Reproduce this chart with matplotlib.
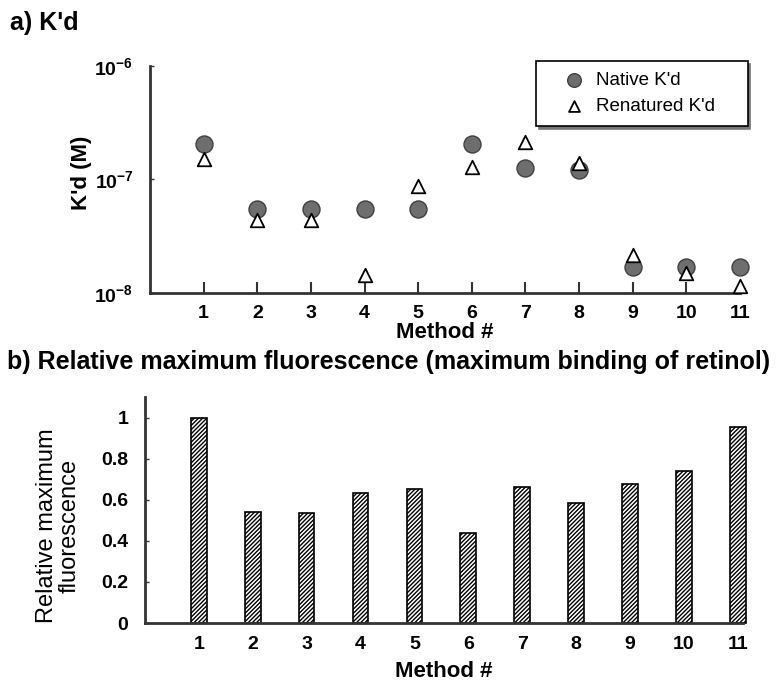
import numpy as np
import matplotlib.pyplot as plt

plt.rcParams['font.family'] = ['Liberation Sans', 'DejaVu Sans']
plt.rcParams['font.weight'] = 'bold'
plt.rcParams['mathtext.fontset'] = 'custom'
plt.rcParams['mathtext.rm'] = 'Liberation Sans'
plt.rcParams['mathtext.bf'] = 'Liberation Sans:bold'
plt.rcParams['hatch.linewidth'] = 1.0

##### DATA #####
methods = [1, 2, 3, 4, 5, 6, 7, 8, 9, 10, 11]
native_kd = [2.05e-7, 5.5e-8, 5.5e-8, 5.5e-8, 5.5e-8, 2.05e-7, 1.26e-7, 1.22e-7, 1.7e-8, 1.7e-8, 1.7e-8]
renatured_kd = [1.51e-7, 4.4e-8, 4.4e-8, 1.45e-8, 8.8e-8, 1.29e-7, 2.14e-7, 1.4e-7, 2.16e-8, 1.5e-8, 1.15e-8]
rel_fluor = [1.0, 0.54, 0.535, 0.634, 0.654, 0.44, 0.66, 0.585, 0.677, 0.741, 0.956]
kd_ticks = [1e-8, 1e-7, 1e-6]
kd_tick_labels = [r'$\mathbf{10^{-8}}$', r'$\mathbf{10^{-7}}$', r'$\mathbf{10^{-6}}$']

axis_col = '#333333'

fig = plt.figure(figsize=(7.79, 6.86), dpi=100)

##### a) K'd #####
ax1 = fig.add_axes([0.1926, 0.5729, 0.7574, 0.3309])
ax1.set_yscale('log')
ax1.scatter(methods, native_kd, s=150, marker='o', facecolor='#6e6e6e',
            edgecolor='#404040', linewidth=1, label="Native K'd    ", zorder=3, clip_on=False)
ax1.scatter(methods, renatured_kd, s=95, marker='^', facecolor='white',
            edgecolor='black', linewidth=1.3, label="Renatured K'd    ", zorder=4, clip_on=False)
ax1.set_xlim(0, 11)
ax1.set_ylim(1e-8, 1e-6)
ax1.set_yticks(kd_ticks)
ax1.set_yticklabels(kd_tick_labels)
ax1.yaxis.set_minor_locator(plt.NullLocator())
ax1.set_xticks(methods)
ax1.set_xticklabels([str(m) for m in methods])
ax1.set_xlabel('Method #', fontsize=16, fontweight='bold', labelpad=0)
ax1.set_ylabel("K'd (M)", fontsize=16, fontweight='bold')
ax1.yaxis.set_label_coords(-0.098, 0.53)
leg = ax1.legend(loc='upper right', bbox_to_anchor=(1.013, 1.022), borderaxespad=0,
                 frameon=True, fancybox=False, shadow={'color': '#777777', 'alpha': 1},
                 handlelength=2.8, handletextpad=-0.2, borderpad=0.6, labelspacing=0.45,
                 markerscale=0.8, prop={'weight': 'normal', 'size': 13.5})
leg.get_frame().set_edgecolor('black')
leg.get_frame().set_linewidth(1.2)

fig.text(0.013, 0.966, "a) K'd", fontsize=18, fontweight='bold', va='center')

##### b) Relative maximum fluorescence #####
ax2 = fig.add_axes([0.186, 0.0918, 0.768, 0.3295])
ax2.bar(methods, rel_fluor, width=0.29, facecolor='white', edgecolor='black',
        hatch='////////', linewidth=1.2, zorder=2, clip_on=False)
ax2.set_xlim(0, 11.1)
ax2.set_ylim(0, 1.1)
ax2.set_yticks([0, 0.2, 0.4, 0.6, 0.8, 1.0])
ax2.set_yticklabels(['0', '0.2', '0.4', '0.6', '0.8', '1'])
ax2.set_xticks(methods)
ax2.set_xticklabels([str(m) for m in methods])
ax2.set_xlabel('Method #', fontsize=16, fontweight='bold', labelpad=6)
ax2.set_ylabel('Relative maximum\nfluorescence', fontsize=17, fontweight='normal',
               linespacing=1.0)
ax2.yaxis.set_label_coords(-0.108, 0.43)

fig.text(0.009, 0.472, 'b) Relative maximum fluorescence (maximum binding of retinol)',
         fontsize=18, fontweight='bold', va='center')

for ax in (ax1, ax2):
    ax.spines['top'].set_visible(False)
    ax.spines['right'].set_visible(False)
    for s in ('left', 'bottom'):
        ax.spines[s].set_linewidth(2)
        ax.spines[s].set_color(axis_col)
    ax.tick_params(axis='x', direction='in', length=8, width=1.5, color=axis_col,
                   labelsize=14, pad=9)
    ax.tick_params(axis='y', direction='in', length=3, width=1, color=axis_col,
                   labelsize=14, pad=12)
    for lab in ax.get_xticklabels() + ax.get_yticklabels():
        lab.set_fontweight('bold')

fig.savefig('out.png', dpi=100)
